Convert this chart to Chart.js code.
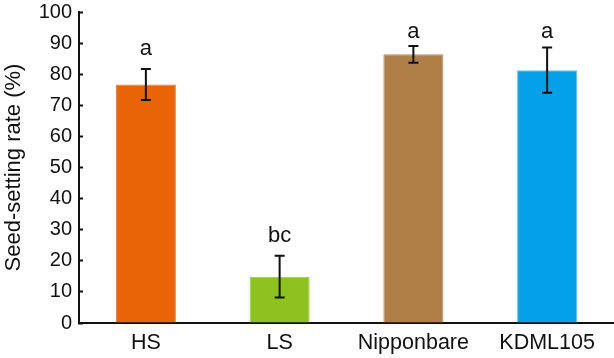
<!DOCTYPE html>
<html lang="en">
<head>
  <meta charset="UTF-8" />
  <title>Seed-setting rate</title>
  <script src="https://cdn.jsdelivr.net/npm/chart.js"></script>
  <style>
    body { margin: 0; background: #fff; }
    #wrap { width: 614px; height: 358px; }
  </style>
</head>
<body>
<div id="wrap"><canvas id="grafico" width="614" height="358"></canvas></div>
<script>
// datos
const categorias = ['HS', 'LS', 'Nipponbare', 'KDML105'];
const valores = [76.7, 14.9, 86.4, 81.3];
const errores = [5.0, 6.7, 2.7, 7.3];
const letras = ['a', 'bc', 'a', 'a'];
const posLetras = [86.3, 26.0, 91.6, 91.6];   // base del texto, en % del eje
const colores = ['#E96307', '#8DC21F', '#B07E47', '#05A1E8'];
const bordes = ['#EC7A30', '#9CC840', '#A89078', '#5CC0EE'];
const ticksY = [0, 10, 20, 30, 40, 50, 60, 70, 80, 90, 100];

const fuente = '"Liberation Sans", Arial, sans-serif';
const negro = '#111';

// barras de error y letras de significancia
const errorBars = {
  id: 'errorBars',
  afterDatasetsDraw(chart) {
    const { ctx, scales: { y } } = chart;
    const meta = chart.getDatasetMeta(0);
    ctx.save();
    ctx.strokeStyle = negro;
    ctx.lineWidth = 2;
    meta.data.forEach((bar, i) => {
      const x = bar.x;
      const top = y.getPixelForValue(valores[i] + errores[i]);
      const bot = y.getPixelForValue(valores[i] - errores[i]);
      ctx.beginPath();
      ctx.moveTo(x, top); ctx.lineTo(x, bot);
      ctx.moveTo(x - 5, top); ctx.lineTo(x + 5, top);
      ctx.moveTo(x - 5, bot); ctx.lineTo(x + 5, bot);
      ctx.stroke();
    });
    ctx.fillStyle = negro;
    ctx.font = '22px ' + fuente;
    ctx.textAlign = 'center';
    ctx.textBaseline = 'alphabetic';
    meta.data.forEach((bar, i) => {
      ctx.fillText(letras[i], bar.x, y.getPixelForValue(posLetras[i]));
    });
    ctx.restore();
  }
};

new Chart(document.getElementById('grafico'), {
  type: 'bar',
  data: {
    labels: categorias,
    datasets: [{
      data: valores,
      backgroundColor: colores,
      borderColor: bordes,
      borderWidth: 1,
      barPercentage: 1,
      categoryPercentage: 0.449
    }]
  },
  options: {
    responsive: false,
    animation: false,
    layout: { padding: 0 },
    plugins: { legend: { display: false }, tooltip: { enabled: false } },
    scales: {
      x: {
        afterFit: s => { s.height = 35; s.paddingLeft = 0; s.paddingRight = 0; },
        grid: { display: true, drawOnChartArea: false, drawTicks: false },
        border: { display: true, color: negro, width: 2 },
        ticks: { color: negro, padding: 7, font: { family: fuente, size: 21.5 } }
      },
      y: {
        min: 0,
        max: 100,
        afterFit: s => { s.width = 79; s.paddingTop = 12; s.paddingBottom = 0; },
        afterBuildTicks: s => { s.ticks = ticksY.map(v => ({ value: v })); },
        grid: { drawOnChartArea: false, tickLength: -4, tickWidth: 2, tickColor: negro },
        border: { display: true, color: negro, width: 2 },
        ticks: { color: negro, padding: 11, font: { family: fuente, size: 20 } },
        title: {
          display: true,
          text: 'Seed-setting rate (%)',
          color: negro,
          padding: { top: 1, bottom: 0 },
          font: { family: fuente, size: 22 }
        }
      }
    }
  },
  plugins: [errorBars]
});
</script>
</body>
</html>
